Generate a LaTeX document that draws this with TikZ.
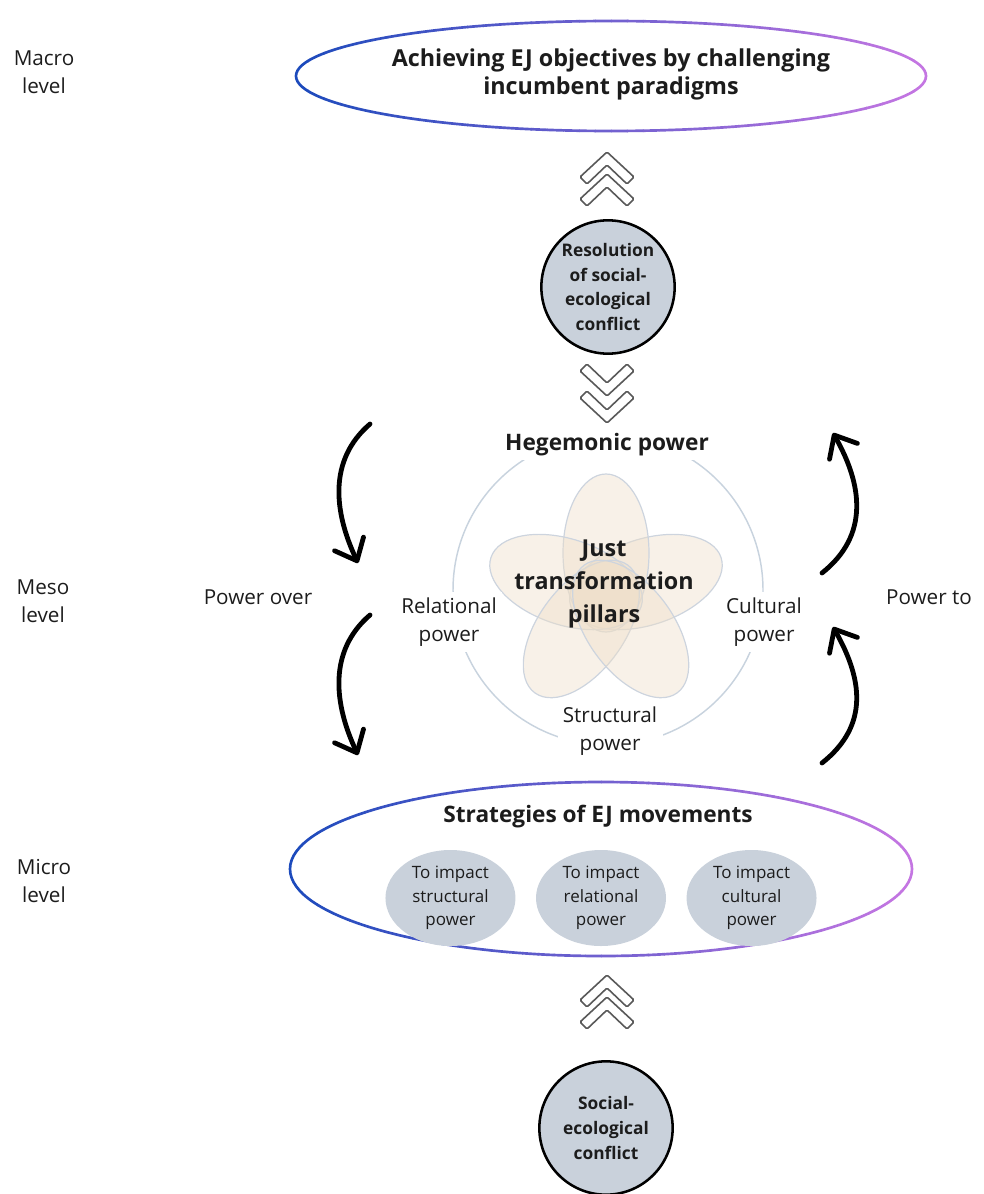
\documentclass[tikz,border=0pt]{standalone}
\usepackage{fontspec}
\setmainfont{Open Sans}
\usetikzlibrary{positioning}
\usetikzlibrary{calc}
\usetikzlibrary{arrows.meta}
\usetikzlibrary{shapes.geometric}
\definecolor{ejblue}{RGB}{28,74,188}
\definecolor{ejviolet}{RGB}{196,118,226}
\definecolor{discgray}{RGB}{201,209,219}
\definecolor{ringgray}{RGB}{200,211,222}
\definecolor{petalfill}{RGB}{238,222,200}
\definecolor{petalline}{RGB}{205,212,222}
\definecolor{inkgray}{RGB}{28,28,28}
\tikzset{
  lvl/.style={align=center, text=inkgray, font=\fontsize{15.5}{21}\selectfont},
  headtext/.style={align=center, text=inkgray, font=\bfseries\fontsize{17}{22}\selectfont},
  disc/.style={circle, draw=black, line width=1.9pt, fill=discgray, minimum size=100pt,
    inner sep=0pt, align=center, text=inkgray, font=\bfseries\fontsize{13}{18.4}\selectfont},
  pill/.style={ellipse, fill=discgray, minimum width=97.5pt, minimum height=72pt,
    inner sep=0pt, align=center, text=inkgray, font=\fontsize{12.75}{17.6}\selectfont},
  ringlabel/.style={lvl, fill=white, inner sep=4pt},
  petal/.style={fill=petalfill, fill opacity=0.42, draw=petalline, line width=0.9pt},
  chevron/.style={draw=black!65, fill=white, line width=1.2pt, rounded corners=1pt},
  swoosh/.style={line width=3.6pt, line cap=round, -{Straight Barb[length=14pt,width=24pt,round]}},
  chevup/.pic={\draw[chevron] (0,0) -- (27,25) -- (20,32) -- (0,13) -- (-20,32) -- (-27,25) -- cycle;},
  chevdown/.pic={\draw[chevron] (0,0) -- (27,-25) -- (20,-32) -- (0,-13) -- (-20,-32) -- (-27,-25) -- cycle;},
}

\begin{document}
\begin{tikzpicture}[x=0.75pt, y=-0.75pt]
    \useasboundingbox (0,0) rectangle (983,1194);
    \def\ringstrips{40}

    \node[lvl] (macro) at (44,72) {Macro\\level};
    \node[lvl] (meso) at (43,601) {Meso\\level};
    \node[lvl] (micro) at (44,881) {Micro\\level};

    \node[headtext, font=\bfseries\fontsize{17.5}{21}\selectfont] (goal) at (611,74) {Achieving EJ objectives by challenging\\incumbent paradigms};
    \coordinate (goalring) at (611,76);
    \coordinate (stratring) at (601,869);

    % blue to violet outlines, drawn strip by strip
    \foreach \ctr/\rx/\ry in {goalring/315/55, stratring/311/87} {
      \pgfmathsetmacro\stripw{(2*\rx+8)/\ringstrips}
      \foreach \i in {1,...,\ringstrips} {
        \pgfmathtruncatemacro\ringmix{100-(\i-1)*100/(\ringstrips-1)}
        \begin{scope}
          \clip ($(\ctr)+({-\rx-4+(\i-1)*\stripw},{-\ry-6})$) rectangle ++({\stripw+0.6},{2*\ry+12});
          \draw[line width=2pt, ejblue!\ringmix!ejviolet] (\ctr) ellipse [x radius=\rx, y radius=\ry];
        \end{scope}
      }
    }

    \pic at (607,152) {chevup};
    \pic at (607,174) {chevup};
    \node[disc] (resol) at (608,287) {Resolution\\of social-\\ecological\\conflict};
    \pic at (607,396) {chevdown};
    \pic at (607,423) {chevdown};

    \coordinate (ring) at (608,590);
    \draw[ringgray, line width=1.1pt] (ring) circle [radius=155];
    \coordinate (flower) at (606,595);
    \begin{scope}[shift={(flower)}, y=0.75pt]
      \foreach \pang in {18,90,162,234,306} {
        \draw[petal, rotate=\pang] (42,0) ellipse [x radius=79, y radius=43];
      }
    \end{scope}
    \node[align=center, text=inkgray, font=\bfseries\fontsize{17.5}{24.5}\selectfont] (pillars) at (604,584) {Just\\transformation\\pillars};

    \node[headtext, fill=white, inner sep=3pt] (hegemon) at (607,445) {Hegemonic power};
    \node[ringlabel] (relational) at (449,622) {Relational\\power};
    \node[ringlabel] (cultural) at (764,622) {Cultural\\power};
    \node[ringlabel] (structural) at (610,731) {Structural\\power};

    \node[lvl] (powover) at (258,597) {Power over};
    \node[lvl] (powto) at (929,597) {Power to};

    \coordinate (over1s) at (370,424);
    \coordinate (over1e) at (358,563);
    \coordinate (over2s) at (370,615);
    \coordinate (over2e) at (358,755);
    \coordinate (to1s) at (822,573);
    \coordinate (to1e) at (833,433);
    \coordinate (to2s) at (822,763);
    \coordinate (to2e) at (833,627);
    \draw[swoosh] (over1s) .. controls ($(over1s)+(-42,36)$) and ($(over1e)+(-24,-51)$) .. (over1e);
    \draw[swoosh] (over2s) .. controls ($(over2s)+(-42,36)$) and ($(over2e)+(-24,-51)$) .. (over2e);
    \draw[swoosh] (to1s) .. controls ($(to1s)+(48,-38)$) and ($(to1e)+(29,51)$) .. (to1e);
    \draw[swoosh] (to2s) .. controls ($(to2s)+(48,-38)$) and ($(to2e)+(29,51)$) .. (to2e);

    \node[headtext] (strat) at (598,817) {Strategies of EJ movements};
    \node[pill] (pillB) at (601,898) {To impact\\relational\\power};
    \node[pill] (pillA) [left=15pt of pillB] {To impact\\structural\\power};
    \node[pill] (pillC) [right=15pt of pillB] {To impact\\cultural\\power};

    \pic at (607,975) {chevup};
    \pic at (607,997) {chevup};
    \node[disc] (conflict) at (606,1128) {Social-\\ecological\\conflict};
\end{tikzpicture}
\end{document}
